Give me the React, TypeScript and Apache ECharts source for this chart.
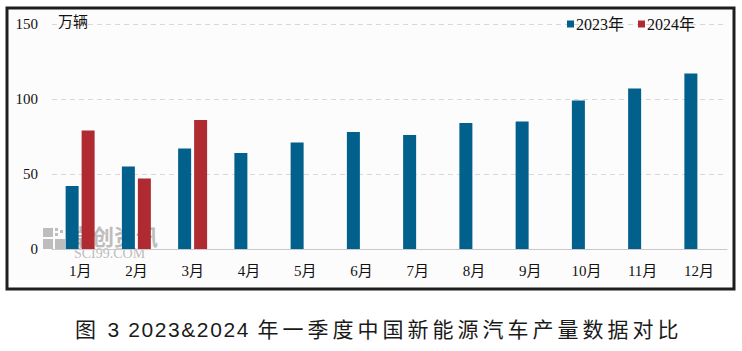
import React, { useEffect, useRef } from "react";
import * as echarts from "echarts";

const months = ["1月", "2月", "3月", "4月", "5月", "6月", "7月", "8月", "9月", "10月", "11月", "12月"];
const values2023 = [42, 55, 67, 64, 71, 78, 76, 84, 85, 99, 107, 117];
const values2024: (number | null)[] = [79, 47, 86, null, null, null, null, null, null, null, null, null];
const seriesNames = ["2023年", "2024年"];
const unitLabel = "万辆";
const captionHead = "图";
const captionNum = "3 2023&2024";
const captionTail = "年一季度中国新能源汽车产量数据对比";

const SERIF = "'Liberation Serif', 'DejaVu Serif', 'Noto Sans CJK SC', serif";

export default function App() {
  const ref = useRef<HTMLDivElement>(null);
  useEffect(() => {
    if (!ref.current) return;
    const chart = echarts.init(ref.current, undefined, { renderer: "svg" });
    const wm = "#bdbdbd";
    chart.setOption({
      animation: false,
      backgroundColor: "#ffffff",
      grid: { left: 52, right: 15, top: 24, bottom: 102 },
      legend: {
        left: 562,
        top: 11,
        icon: "rect",
        itemWidth: 7,
        itemHeight: 7,
        itemGap: 14,
        textStyle: { fontFamily: SERIF, fontSize: 16, color: "#111", padding: [0, 0, 0, -3] },
        data: seriesNames,
      },
      xAxis: {
        type: "category",
        data: months,
        axisLine: { lineStyle: { color: "#c8c8c8", width: 1 } },
        axisTick: { show: false },
        axisLabel: { fontFamily: SERIF, fontSize: 15, color: "#111", margin: 14, lineHeight: 16 },
      },
      yAxis: {
        type: "value",
        min: 0,
        max: 150,
        interval: 50,
        axisLine: { show: false },
        axisTick: { show: false },
        axisLabel: { fontFamily: SERIF, fontSize: 15, color: "#111", margin: 14 },
        splitLine: { lineStyle: { color: "#e2d4d4", type: [5, 4], width: 1 } },
      },
      series: [
        {
          name: seriesNames[0],
          type: "bar",
          data: values2023,
          barWidth: 13,
          barGap: "23%",
          itemStyle: { color: "#01608c" },
          z: 3,
        },
        {
          name: seriesNames[1],
          type: "bar",
          data: values2024,
          barWidth: 13,
          itemStyle: { color: "#b02a31" },
          z: 3,
        },
      ],
      graphic: [
        {
          type: "rect",
          z: -10,
          shape: { x: 7, y: 8, width: 727, height: 281 },
          style: { fill: "#fdfcfc", stroke: "#1e1e1e", lineWidth: 3 },
        },
        // watermark
        {
          type: "group",
          z: 0,
          children: [
            { type: "rect", shape: { x: 43, y: 228, width: 10, height: 9 }, style: { fill: wm } },
            { type: "rect", shape: { x: 55, y: 228, width: 3, height: 3 }, style: { fill: wm } },
            { type: "rect", shape: { x: 60, y: 230, width: 3, height: 3 }, style: { fill: wm } },
            { type: "rect", shape: { x: 55, y: 233, width: 3, height: 3 }, style: { fill: wm } },
            { type: "rect", shape: { x: 43, y: 239, width: 10, height: 10 }, style: { fill: wm } },
            { type: "rect", shape: { x: 55, y: 239, width: 10, height: 10 }, style: { fill: wm } },
            {
              type: "text",
              x: 70,
              y: 223,
              style: {
                text: "{a|卓创资讯}\n{b|SCI99.COM}",
                verticalAlign: "top",
                rich: {
                  a: {
                    fontFamily: "'Noto Sans CJK SC'",
                    fontWeight: "bold",
                    fontSize: 22,
                    lineHeight: 24,
                    fill: wm,
                    color: wm,
                  },
                  b: {
                    fontFamily: "'Liberation Serif'",
                    fontSize: 14,
                    lineHeight: 12,
                    fill: wm,
                    color: wm,
                    padding: [0, 0, 0, 4],
                  },
                },
              },
            },
          ],
        },
        {
          type: "text",
          x: 58,
          y: 14,
          z: 5,
          style: { text: unitLabel, font: `15px ${SERIF}`, fill: "#111" },
        },
      ],
    });
    return () => chart.dispose();
  }, []);
  return (
    <div style={{ position: "absolute", left: 0, top: 0, width: 742, height: 351 }}>
      <div ref={ref} style={{ position: "absolute", left: 0, top: 0, width: 742, height: 351 }} />
      <div
        style={{
          position: "absolute",
          left: 75,
          top: 318,
          whiteSpace: "nowrap",
          fontFamily: "'Liberation Sans', 'Noto Sans CJK SC', sans-serif",
          fontSize: 21,
          lineHeight: "24px",
          color: "#1a1a1a",
        }}
      >
        <span style={{ letterSpacing: 4 }}>{captionHead}</span>
        <span style={{ letterSpacing: 1.6 }}>{" " + captionNum + " "}</span>
        <span style={{ letterSpacing: 4 }}>{captionTail}</span>
      </div>
    </div>
  );
}
